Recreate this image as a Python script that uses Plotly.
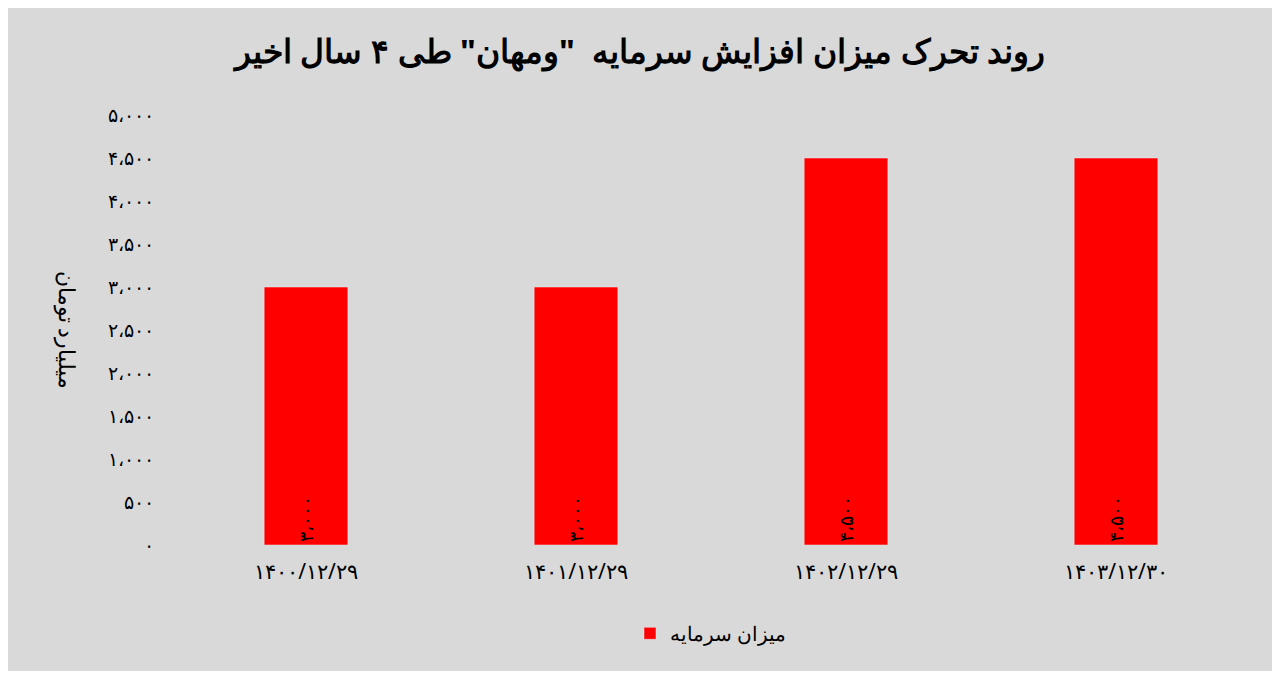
import plotly.graph_objects as go

categories = ["۱۴۰۰/۱۲/۲۹", "۱۴۰۱/۱۲/۲۹", "۱۴۰۲/۱۲/۲۹", "۱۴۰۳/۱۲/۳۰"]
values = [3000, 3000, 4500, 4500]
value_labels = ["۳،۰۰۰", "۳،۰۰۰", "۴،۵۰۰", "۴،۵۰۰"]
tick_vals = [0, 500, 1000, 1500, 2000, 2500, 3000, 3500, 4000, 4500, 5000]
tick_text = ["۰", "۵۰۰", "۱،۰۰۰", "۱،۵۰۰", "۲،۰۰۰", "۲،۵۰۰", "۳،۰۰۰", "۳،۵۰۰", "۴،۰۰۰", "۴،۵۰۰", "۵،۰۰۰"]

font = "Noto Sans"
fig = go.Figure(go.Bar(
    x=categories, y=values, name="میزان سرمایه",
    marker_color="#ff0000", width=0.31,
    text=value_labels, textposition="inside", insidetextanchor="start",
    textangle=-90, textfont=dict(size=19, color="black", family=font),
))
fig.update_layout(
    width=1264, height=663,
    paper_bgcolor="#d9d9d9", plot_bgcolor="#d9d9d9",
    margin=dict(l=163, r=21, t=107, b=126),
    font=dict(family=font, color="black"),
    title=dict(text='<b>روند تحرک میزان افزایش سرمایه  "ومهان" طی ۴ سال اخیر</b>',
               x=0.5, xanchor="center", y=0.935, yanchor="middle", font=dict(size=33)),
    xaxis=dict(showgrid=False, showline=False, tickfont=dict(size=21), ticklabelstandoff=12),
    yaxis=dict(range=[0, 5000], tickvals=tick_vals, ticktext=tick_text, showgrid=False,
               zeroline=False, tickfont=dict(size=19), ticklabelstandoff=16),
    showlegend=True,
    legend=dict(orientation="h", x=0.5, xanchor="center", y=-0.16, yanchor="top",
                font=dict(size=20)),
    annotations=[dict(text="میلیارد تومان", textangle=90, x=-0.095, xref="paper", xanchor="center",
                      y=0.5, yref="paper", showarrow=False, font=dict(size=22))],
)
fig.write_html("out.html")
